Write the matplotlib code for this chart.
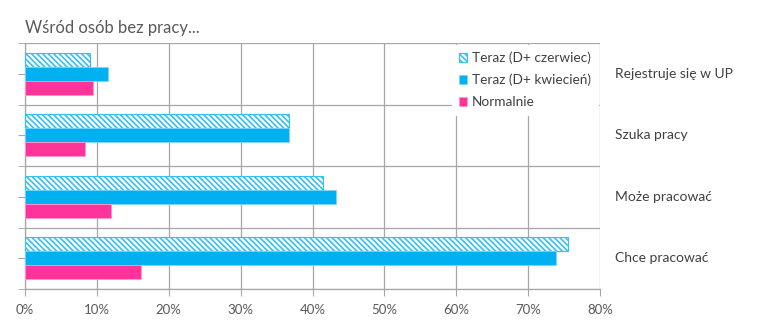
import numpy as np
import matplotlib.pyplot as plt
from matplotlib.transforms import blended_transform_factory

# Dane (%)
kategorie = ["Rejestruje się w UP", "Szuka pracy", "Może pracować", "Chce pracować"]
teraz_czerwiec = [9.1, 36.7, 41.4, 75.5]
teraz_kwiecien = [11.5, 36.7, 43.2, 73.9]
normalnie = [9.5, 8.3, 12.0, 16.1]
serie = ["Teraz (D+ czerwiec)", "Teraz (D+ kwiecień)", "Normalnie"]
xticks = [0, 10, 20, 30, 40, 50, 60, 70, 80]

NIEBIESKI = "#00B0F0"
ROZOWY = "#FF3399"
SZARY = "#A6A6A6"
TEKST = "#404040"

plt.rcParams["font.family"] = ["Lato", "DejaVu Sans"]
plt.rcParams["hatch.linewidth"] = 1.2

fig = plt.figure(figsize=(7.68, 3.33), dpi=100)
ax = fig.add_axes([25 / 768, 1 - 289 / 333, 575 / 768, 246 / 333])

y = np.arange(len(kategorie))
h = 0.228

ax.barh(y - h, teraz_czerwiec, height=h, facecolor="white", edgecolor="#33c0f3",
        hatch="\\\\\\\\\\\\", linewidth=0.8, label=serie[0], zorder=3)
ax.barh(y, teraz_kwiecien, height=h, color=NIEBIESKI, edgecolor="#7fd7f7",
        linewidth=0.6, label=serie[1], zorder=3)
ax.barh(y + h, normalnie, height=h, color=ROZOWY, edgecolor="#ff99cc",
        linewidth=0.6, label=serie[2], zorder=3)

ax.set_xlim(0, 80)
ax.set_ylim(len(kategorie) - 0.5, -0.5)

ax.set_xticks(xticks)
ax.set_xticklabels([f"{v}%" for v in xticks])
ax.set_yticks(y)
ax.set_yticklabels([])
ax.set_yticks(np.arange(-0.5, len(kategorie)), minor=True)

ax.tick_params(axis="x", length=5, color=SZARY, labelcolor="#595959",
               labelsize=9.5, pad=6)
ax.tick_params(axis="y", which="both", length=5, color=SZARY)
ax.grid(axis="x", which="major", color=SZARY, linewidth=0.9, zorder=0)
ax.grid(axis="y", which="minor", color=SZARY, linewidth=0.9, zorder=0)

for s in ["top", "right"]:
    ax.spines[s].set_visible(False)
for s in ["left", "bottom"]:
    ax.spines[s].set_color(SZARY)
    ax.spines[s].set_linewidth(0.9)

# Etykiety kategorii po prawej stronie
tr = blended_transform_factory(ax.transAxes, ax.transData)
for yi, nazwa in zip(y, kategorie):
    ax.text(1.026, yi, nazwa, transform=tr, va="center", ha="left",
            fontsize=10, color=TEKST)

fig.text(25 / 768, 1 - 28 / 333, "Wśród osób bez pracy...", fontsize=12,
         color="#595959", va="center", ha="left")

leg = ax.legend(loc="upper right", bbox_to_anchor=(1.0, 1.0), frameon=True,
                fontsize=9.8, handlelength=0.6, handleheight=0.6,
                handletextpad=0.4, labelspacing=0.7, borderpad=0.5,
                borderaxespad=0.15)
leg.get_frame().set_edgecolor("white")
leg.get_frame().set_facecolor("white")
leg.get_frame().set_alpha(1)
leg.set_zorder(5)
for t in leg.get_texts():
    t.set_color(TEKST)

fig.savefig("out.png", dpi=100)
